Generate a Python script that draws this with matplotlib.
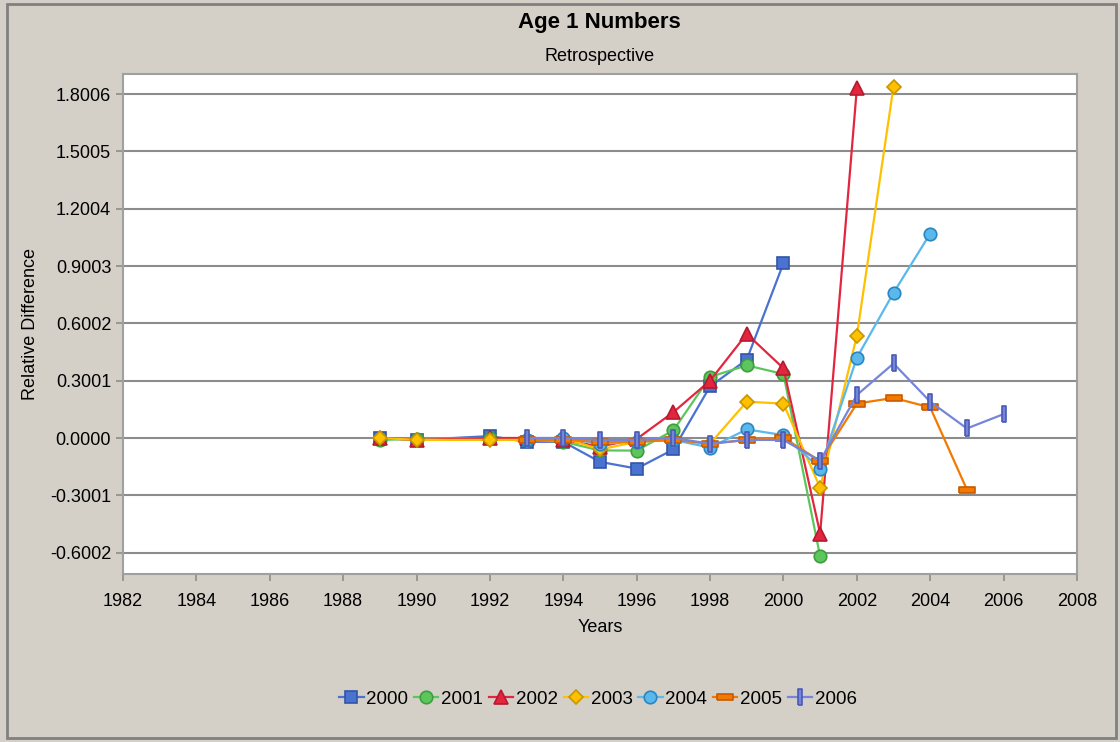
import matplotlib.pyplot as plt
from matplotlib.patches import Rectangle

plt.rcParams['font.family'] = ['Liberation Sans', 'DejaVu Sans']

years_a = [1989, 1990, 1992, 1993, 1994, 1995, 1996, 1997, 1998, 1999, 2000, 2001, 2002, 2003, 2004, 2005, 2006]

# retrospective runs, values per year starting at 1989 (2000-2003) or 1993 (2004-2006)
y2000 = [0.00, -0.01, 0.01, -0.02, -0.02, -0.125, -0.16, -0.06, 0.27, 0.41, 0.915]
y2001 = [-0.01, -0.005, 0.0, -0.01, -0.02, -0.065, -0.066, 0.04, 0.32, 0.38, 0.335, -0.62]
y2002 = [0.0, -0.01, 0.0, 0.0, -0.01, -0.045, -0.005, 0.135, 0.30, 0.545, 0.365, -0.50, 1.83]
y2003 = [0.0, -0.01, -0.01, -0.01, 0.0, -0.06, -0.02, -0.01, -0.03, 0.19, 0.18, -0.26, 0.535, 1.84]
y2004 = [-0.01, 0.0, -0.03, -0.02, -0.01, -0.05, 0.045, 0.015, -0.16, 0.42, 0.76, 1.07]
y2005 = [-0.01, -0.01, -0.02, -0.02, -0.01, -0.03, -0.01, 0.0, -0.12, 0.18, 0.21, 0.16, -0.27]
y2006 = [0.0, 0.0, -0.01, -0.01, 0.0, -0.03, -0.01, -0.01, -0.12, 0.225, 0.39, 0.19, 0.05, 0.125]

yt = [-0.6002, -0.3001, 0.0, 0.3001, 0.6002, 0.9003, 1.2004, 1.5005, 1.8006]
xt = list(range(1982, 2009, 2))

hbar = [(-1, -0.33), (1, -0.33), (1, 0.33), (-1, 0.33), (-1, -0.33)]
vbar = [(-0.25, -1), (0.25, -1), (0.25, 1), (-0.25, 1), (-0.25, -1)]

series = [
    ('2000', years_a[:len(y2000)], y2000, '#4A72D0', '#3355A8', 's', 9),
    ('2001', years_a[:len(y2001)], y2001, '#5CC65C', '#3E9E3E', 'o', 9),
    ('2002', years_a[:len(y2002)], y2002, '#E3263F', '#B51A2E', '^', 10),
    ('2003', years_a[:len(y2003)], y2003, '#FFC000', '#C89600', 'D', 7),
    ('2004', years_a[3:3 + len(y2004)], y2004, '#5BB8EC', '#2A86C0', 'o', 9),
    ('2005', years_a[3:3 + len(y2005)], y2005, '#F27A00', '#C85A00', hbar, 11),
    ('2006', years_a[3:3 + len(y2006)], y2006, '#7585DA', '#4A5AB5', vbar, 12),
]

fig = plt.figure(figsize=(11.2, 7.42), dpi=100, facecolor='#D4D0C8')
fig.patches.append(Rectangle((0.006, 0.006), 0.99, 0.988, transform=fig.transFigure,
                             fill=False, edgecolor='#808080', linewidth=2))
ax = fig.add_axes([0.1098, 0.2264, 0.8518, 0.674])

for name, xs, ys, c, ec, m, ms in series:
    ax.plot(xs, ys, color=c, marker=m, markersize=ms, markerfacecolor=c,
            markeredgecolor=ec, markeredgewidth=1.2, linewidth=1.6, label=name, zorder=3)

ax.set_xlim(1982, 2008)
ax.set_ylim(-0.712, 1.906)
ax.set_xticks(xt)
ax.set_xticklabels([str(v) for v in xt])
ax.set_yticks(yt)
ax.set_yticklabels([f'{v:.4f}' for v in yt])
ax.yaxis.grid(True, color='#8C8C8C', linewidth=1.5)
ax.set_axisbelow(True)
for s in ax.spines.values():
    s.set_color('#A0A0A0')
    s.set_linewidth(1.5)
ax.tick_params(axis='both', colors='#8C8C8C', labelcolor='black', labelsize=13, length=5, width=1.2)
ax.tick_params(axis='x', pad=9)

ax.set_xlabel('Years', fontsize=13, labelpad=6)
ax.set_ylabel('Relative Difference', fontsize=13, labelpad=8)
fig.text(0.535, 0.970, 'Age 1 Numbers', ha='center', va='center', fontsize=16, fontweight='bold')
fig.text(0.535, 0.924, 'Retrospective', ha='center', va='center', fontsize=13)

fig.legend(loc='center', bbox_to_anchor=(0.534, 0.058), ncol=7, frameon=False, fontsize=13.5,
           handlelength=1.3, handletextpad=0.15, columnspacing=0.3)

fig.savefig('out.png', dpi=100, facecolor=fig.get_facecolor())
